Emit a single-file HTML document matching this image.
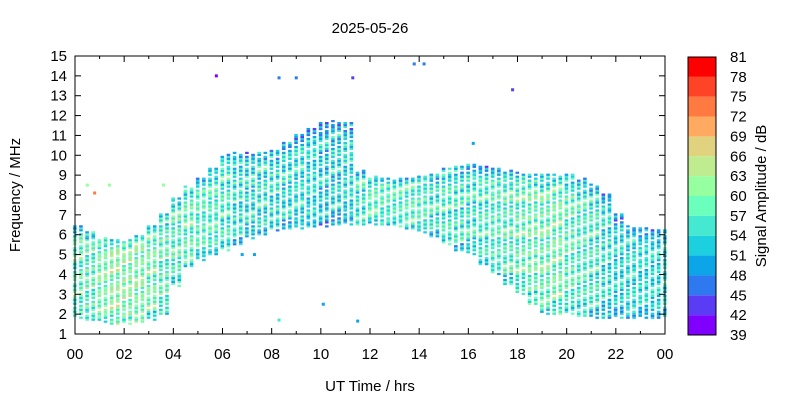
<!DOCTYPE html>
<html><head><meta charset="utf-8"><style>
body{margin:0;background:#fff}
svg text{font-family:"Liberation Sans",sans-serif;font-size:15px;fill:#000}
</style></head><body>
<svg id="c" width="800" height="400" xmlns="http://www.w3.org/2000/svg">
<rect width="800" height="400" fill="#fff"/>
<text x="370" y="33" text-anchor="middle">2025-05-26</text>
<text x="370" y="391" text-anchor="middle">UT Time / hrs</text>
<text transform="translate(20,195) rotate(-90)" text-anchor="middle">Frequency / MHz</text>
<text transform="translate(766,196) rotate(-90)" text-anchor="middle">Signal Amplitude / dB</text>
<g id="cells"></g>
<g id="axes"></g>
<g id="cbar"></g>
</svg>
<script>
const hours = [0,0.5,1,1.5,2,2.5,3,3.5,4,4.5,5,5.5,6,6.5,7,7.5,8,8.5,9,9.5,10,10.5,11,11.5,12,12.5,13,13.5,14,14.5,15,15.5,16,16.5,17,17.5,18,18.5,19,19.5,20,20.5,21,21.5,22,22.5,23,23.5,24];
const lowFreq = [1.8,1.7,1.6,1.5,1.5,1.6,1.7,2.0,3.4,4.4,4.7,5.0,5.2,5.5,5.8,6.0,6.2,6.3,6.3,6.4,6.4,6.5,6.5,6.5,6.5,6.5,6.4,6.3,6.1,5.9,5.5,5.2,5.0,4.5,4.0,3.5,3.0,2.5,2.0,2.0,2.0,1.9,1.8,1.8,1.8,1.8,1.8,1.8,1.8];
const highFreq = [6.4,6.1,5.8,5.7,5.7,5.9,6.4,7.0,7.8,8.4,8.8,9.3,10.0,10.1,10.1,10.1,10.2,10.6,11.0,11.3,11.6,11.7,11.6,9.2,8.9,8.8,8.8,8.8,8.9,9.0,9.3,9.4,9.5,9.4,9.3,9.2,9.1,9.0,9.0,9.0,9.0,8.8,8.5,8.0,7.0,6.4,6.3,6.2,6.2];
const baseAmp = [58,58,60,61,61,61,59,58,58,58,57,57,56,55,55,55,55,55,54,54,53,53,54,56,57,57,57,57,57,56,56,56,56,56,57,58,58,59,59,59,58,57,56,55,54,54,54,54,54];
const outlierT = [5.75,8.3,9.0,11.3,13.8,14.2,17.8,16.2,0.5,0.8,1.4,3.6,8.3,10.1,11.5,6.8,7.3];
const outlierF = [14.0,13.9,13.9,13.9,14.6,14.6,13.3,10.6,8.5,8.1,8.5,8.5,1.7,2.5,1.65,5.0,5.0];
const outlierA = [40,46,46,44,47,47,44,49,61,72,61,61,54,50,48,48,48];
const cbTicks = [39,42,45,48,51,54,57,60,63,66,69,72,75,78,81];
const yTicks = [1,2,3,4,5,6,7,8,9,10,11,12,13,14,15];
const xTicks = ["00","02","04","06","08","10","12","14","16","18","20","22","00"];
const palette = ["#7f00ff","#5b3cf5","#2e78f0","#0ca6e8","#1cd0e0","#45e8d0","#6affbd","#96ffa0","#c0ec90","#e0d27e","#ffaa60","#ff7a40","#ff4326","#ff0000"];

const X0=75,X1=665,Y0=334,Y1=56;
const xs=h=>X0+(X1-X0)*h/24;
const ys=f=>Y0-(Y0-Y1)*(f-1)/14;
const NS="http://www.w3.org/2000/svg";
function col(a){let i=Math.floor((a-39)/3);i=Math.max(0,Math.min(13,i));return palette[i];}
function mk(tag,at,parent){const e=document.createElementNS(NS,tag);for(const k in at)e.setAttribute(k,at[k]);parent.appendChild(e);return e;}
const cells=document.getElementById('cells');
for(let i=0;i<hours.length;i++){
  const sub=(i<hours.length-1)?2:1;
  for(let s=0;s<sub;s++){
    const t=hours[i]+s*0.25;
    const lo=lowFreq[i],hi=highFreq[i];
    for(let f=lo,j=0;f<=hi;f+=0.1,j++){
      if(((i*3+s*7+j*5)%6)==0)continue;
      const frac=(f-lo)/(hi-lo);
      let a=baseAmp[i]+(((i*7+s*5+j*13)%9)-4)*1.4;
      if(frac>0.85)a-=6*(frac-0.85)/0.15;
      if(frac<0.1)a-=3;
      const r=mk('rect',{x:xs(t)-2,y:ys(f)-1.5,width:3.6,height:2.2,fill:col(a)},cells);
      
      
    }
  }
}
for(let k=0;k<outlierT.length;k++){
  const r=mk('rect',{x:xs(outlierT[k])-1.5,y:ys(outlierF[k])-1.5,width:3,height:3,fill:col(outlierA[k])},cells);
  
  
}
const ax=document.getElementById('axes');
mk('rect',{x:X0,y:Y1,width:X1-X0,height:Y0-Y1,fill:'none',stroke:'#000','stroke-width':1},ax);
yTicks.forEach(v=>{const y=ys(v);
  mk('line',{x1:X0,x2:X0+6,y1:y,y2:y,stroke:'#000'},ax);
  mk('line',{x1:X1,x2:X1-6,y1:y,y2:y,stroke:'#000'},ax);
  const t=mk('text',{x:X0-8,y:y+5,'text-anchor':'end'},ax);t.textContent=v;
  
  
});
xTicks.forEach((v,k)=>{const x=xs(k*2);
  mk('line',{x1:x,x2:x,y1:Y0,y2:Y0-6,stroke:'#000'},ax);
  mk('line',{x1:x,x2:x,y1:Y1,y2:Y1+6,stroke:'#000'},ax);
  if(k<12){const xm=xs(k*2+1);mk('line',{x1:xm,x2:xm,y1:Y0,y2:Y0-3,stroke:'#000'},ax);mk('line',{x1:xm,x2:xm,y1:Y1,y2:Y1+3,stroke:'#000'},ax);}
  const t=mk('text',{x:x,y:Y0+25,'text-anchor':'middle'},ax);t.textContent=v;
  
  
});
const cb=document.getElementById('cbar');
const C0=335,C1=57,cx=688,cw=28;
const cy=a=>C0-(C0-C1)*(a-39)/42;
for(let i=0;i<14;i++){
  const r=mk('rect',{x:cx,y:cy(cbTicks[i+1]),width:cw,height:cy(cbTicks[i])-cy(cbTicks[i+1]),fill:palette[i]},cb);
  
  
}
mk('rect',{x:cx,y:C1,width:cw,height:C0-C1,fill:'none',stroke:'#000'},cb);
cbTicks.forEach(v=>{const t=mk('text',{x:730,y:cy(v)+5},cb);t.textContent=v;
  
  });
</script>
</body></html>
